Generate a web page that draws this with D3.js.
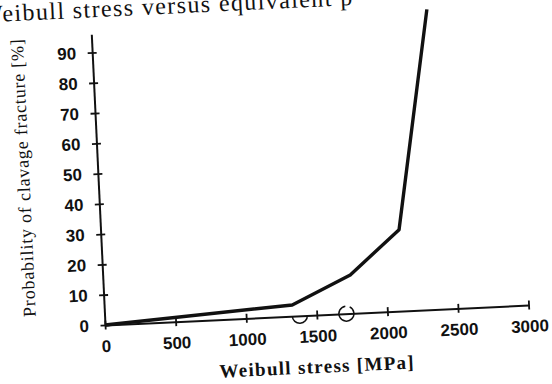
<!DOCTYPE html>
<html>
<head>
<meta charset="utf-8">
<script src="https://cdn.jsdelivr.net/npm/d3@7"></script>
<style>
  body { margin: 0; background: #fff; }
  svg { display: block; }
  .axis path, .axis line { stroke: #111; }
  .axis text { fill: #111; font-family: "Liberation Sans", Arial, sans-serif; font-weight: bold; font-size: 17px; }
</style>
</head>
<body>
<div id="chart"></div>
<script>
// values
var stress = [0, 1330, 1750, 2110, 2380];      // MPa
var probability = [0, 3.7, 12.7, 26.8, 99];    // %
var xTicks = [0, 500, 1000, 1500, 2000, 2500, 3000];
var yTicks = [0, 10, 20, 30, 40, 50, 60, 70, 80, 90];
var markerStress = [1380, 1710];

var width = 552, height = 384;
var tilt = -2.7; // the scan is slightly rotated

var svg = d3.select("#chart")
  .append("svg")
  .attr("width", width)
  .attr("height", height);

var g = svg.append("g")
  .attr("transform", "translate(105,325) rotate(" + tilt + ")");

var x = d3.scaleLinear().domain([0, 3000]).range([0, 424]);
var y = d3.scaleLinear().domain([0, 96]).range([0, -291]);

// x axis
var xAxis = g.append("g")
  .attr("class", "x axis")
  .call(d3.axisBottom(x)
    .tickValues(xTicks)
    .tickSizeInner(5)
    .tickSizeOuter(0)
    .tickPadding(10)
    .tickFormat(d3.format("d")));
xAxis.select(".domain").attr("stroke-width", 2);
xAxis.selectAll(".tick line").attr("y1", -4.5).attr("y2", 4.5).attr("stroke-width", 1.8);

// y axis
var yAxis = g.append("g")
  .attr("class", "y axis")
  .call(d3.axisLeft(y)
    .tickValues(yTicks)
    .tickSizeInner(5)
    .tickSizeOuter(0)
    .tickPadding(11)
    .tickFormat(d3.format("d")));
yAxis.select(".domain").attr("stroke-width", 2);
yAxis.selectAll(".tick line").attr("x1", -4.5).attr("x2", 4.5).attr("stroke-width", 1.8);

// curve
var line = d3.line()
  .x(function(d, i) { return x(d); })
  .y(function(d, i) { return y(probability[i]); });

g.append("path")
  .datum(stress)
  .attr("d", line)
  .attr("fill", "none")
  .attr("stroke", "#111")
  .attr("stroke-width", 3.4)
  .attr("stroke-linejoin", "round");

// open markers on the stress axis
var arc = d3.arc().innerRadius(7.5).outerRadius(7.5);
g.selectAll(".marker")
  .data(markerStress)
  .enter()
  .append("path")
  .attr("class", "marker")
  .attr("transform", function(d) { return "translate(" + x(d) + "," + y(0) + ")"; })
  .attr("d", function(d, i) {
    return i === 0
      ? arc({startAngle: Math.PI / 2, endAngle: Math.PI * 1.5})
      : arc({startAngle: 0.5, endAngle: Math.PI * 2 - 0.1});
  })
  .attr("fill", "none")
  .attr("stroke", "#111")
  .attr("stroke-width", 1.5);

// axis titles
g.append("text")
  .attr("x", 210)
  .attr("y", 58)
  .attr("text-anchor", "middle")
  .style("font-family", "'Liberation Serif', 'Times New Roman', serif")
  .style("font-weight", "bold")
  .style("font-size", "19px")
  .style("letter-spacing", "1.3px")
  .style("fill", "#111")
  .text("Weibull stress [MPa]");

g.append("text")
  .attr("transform", "translate(-75,-151) rotate(-90)")
  .attr("text-anchor", "middle")
  .attr("dy", "0.35em")
  .style("font-family", "'Liberation Serif', 'Times New Roman', serif")
  .style("font-size", "18px")
  .style("letter-spacing", "0.8px")
  .style("fill", "#111")
  .text("Probability of clavage fracture [%]");

// page title, cut off by the scan
g.append("text")
  .attr("x", -110)
  .attr("y", -308)
  .style("font-family", "'Liberation Serif', 'Times New Roman', serif")
  .style("font-size", "24px")
  .style("letter-spacing", "1.4px")
  .style("fill", "#111")
  .text("Weibull stress versus equivalent p");
</script>
</body>
</html>
